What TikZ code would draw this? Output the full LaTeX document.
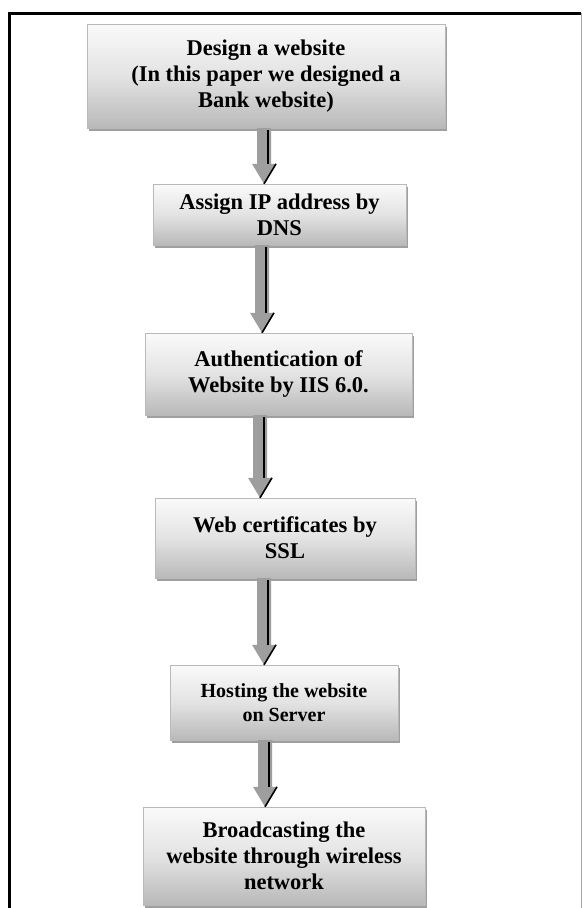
\documentclass[tikz,border=0pt]{standalone}
\usepackage{fontspec}
\setmainfont{Liberation Serif}
\usetikzlibrary{calc,shadows}

\definecolor{arrowgray}{gray}{0.62}

% block arrow from #1 down to the tip #2, shadow line on its right
\newcommand{\flowarrow}[2]{%
  \fill[arrowgray] ($(#1)+(-7,0)$) -- ($(#1)+(7,0)$) -- ($(#2)+(7,-20)$)
    -- ($(#2)+(12,-20)$) -- (#2) -- ($(#2)+(-12,-20)$) -- ($(#2)+(-7,-20)$) -- cycle;
  \draw[black, line width=1.6pt] ($(#1)+(4,2)$) -- ($(#2)+(4,-20)$);
  \draw[black, line width=1.6pt] ($(#2)+(12,-20)$) -- (#2);
}

\begin{document}
\begin{tikzpicture}[x=1pt, y=-1pt,
  stepbox/.style={rectangle, draw=gray!55, thin, top color=gray!4,
                  bottom color=gray!55, middle color=gray!22,
                  drop shadow={shadow xshift=1.5pt, shadow yshift=-2.5pt, fill=gray!75, opacity=1},
                  align=center, inner sep=0pt,
                  font=\fontsize{22.5}{26}\selectfont\bfseries}
]
  \useasboundingbox (0,0) rectangle (584,908);
  \fill[white] (0,0) rectangle (584,908);

  % outer frame, its lower edge runs off the page
  \draw[line width=3pt] (9,915) -- (9,13) -- (581,13);
  \draw[gray!70, line width=0.8pt] (581,13) -- (581,915);

  \node[stepbox, minimum width=358, minimum height=104] (design) at (266,76)
    {Design a website\\(In this paper we designed a\\Bank website)};
  \node[stepbox, minimum width=253, minimum height=61] (dns) at (279.5,214.5)
    {Assign IP address by\\DNS};
  \node[stepbox, minimum width=267, minimum height=82] (iis) at (278.5,374)
    {Authentication of\\Website by IIS 6.0.};
  \node[stepbox, minimum width=260, minimum height=80] (ssl) at (285,538)
    {Web certificates by\\SSL};
  \node[stepbox, minimum width=228, minimum height=75,
        font=\fontsize{20}{24}\selectfont\bfseries] (host) at (284,702.5)
    {Hosting the website\\on Server};
  \node[stepbox, minimum width=282, minimum height=98] (cast) at (284,856)
    {Broadcasting the\\website through wireless\\network};

  % arrows between the steps
  \coordinate (a1) at (264,0);
  \coordinate (a2) at (262,0);
  \coordinate (a3) at (260,0);
  \coordinate (a4) at (264,0);
  \coordinate (a5) at (265,0);
  \flowarrow{design.south -| a1}{dns.north -| a1}
  \flowarrow{dns.south -| a2}{iis.north -| a2}
  \flowarrow{iis.south -| a3}{ssl.north -| a3}
  \flowarrow{ssl.south -| a4}{host.north -| a4}
  \flowarrow{host.south -| a5}{cast.north -| a5}
\end{tikzpicture}
\end{document}
